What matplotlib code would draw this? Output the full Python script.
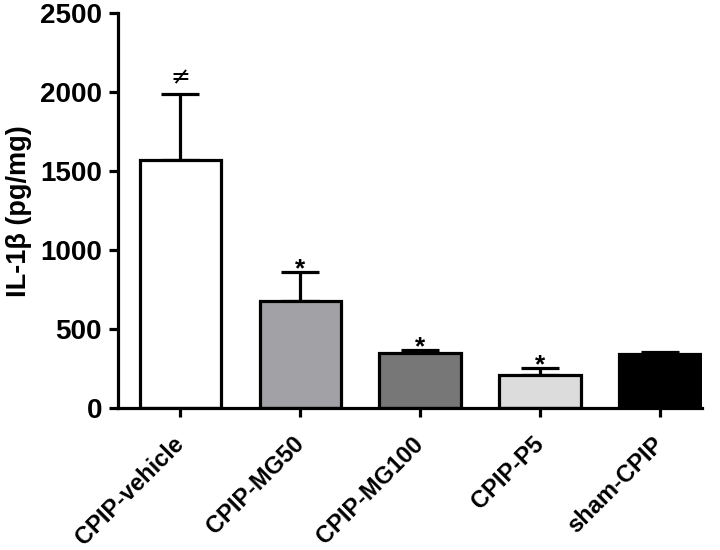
import matplotlib.pyplot as plt

grupos = ["CPIP-vehicle", "CPIP-MG50", "CPIP-MG100", "CPIP-P5", "sham-CPIP"]
il1b = [1570, 679, 346, 209, 345]
error = [420, 182, 21, 42, 12]
colores = ["#ffffff", "#a2a2a6", "#777777", "#dcdcdc", "#000000"]
marcas = ["\u2260", "*", "*", "*", ""]

plt.rcParams['font.family'] = ['Liberation Sans', 'DejaVu Sans']

fig = plt.figure(figsize=(7.2, 5.5), dpi=100)
ax = fig.add_axes([0.164, 0.258, 0.811, 0.718])

x = list(range(len(grupos)))
ax.bar(x, il1b, width=0.68, color=colores, edgecolor="black", linewidth=2.3, zorder=2)
ax.errorbar(x, il1b, yerr=[[0] * len(x), error], fmt="none", ecolor="black",
            elinewidth=2.3, capsize=14, capthick=2.3, zorder=1)

for i in x:
    tope = il1b[i] + error[i]
    if marcas[i] == "*":
        ax.annotate("*", (i, tope), xytext=(0, -3), textcoords="offset points",
                    ha="center", va="baseline", fontsize=19, fontweight="bold")
    elif marcas[i]:
        ax.annotate(marcas[i], (i, tope), xytext=(0, 3), textcoords="offset points",
                    ha="center", va="bottom", fontsize=17, family=['DejaVu Sans'])

ax.set_xlim(-0.52, 4.35)
ax.set_ylim(0, 2500)
ax.set_yticks([0, 500, 1000, 1500, 2000, 2500])
ax.set_xticks(x)
ax.set_xticklabels(grupos, rotation=45, ha="right", va="center", rotation_mode="anchor",
                   fontsize=17, fontweight="bold")
for lbl in ax.get_yticklabels():
    lbl.set_fontsize(20)
    lbl.set_fontweight("bold")
ax.set_ylabel("IL-1\u03b2 (pg/mg)", fontsize=19.5, fontweight="bold", labelpad=6)

for lado in ["top", "right"]:
    ax.spines[lado].set_visible(False)
for lado in ["left", "bottom"]:
    ax.spines[lado].set_linewidth(2.3)
ax.tick_params(axis="both", width=2.3, length=6.5, direction="out")
ax.tick_params(axis="x", pad=17)
ax.tick_params(axis="y", pad=5)

fig.savefig("out.png", dpi=100)
